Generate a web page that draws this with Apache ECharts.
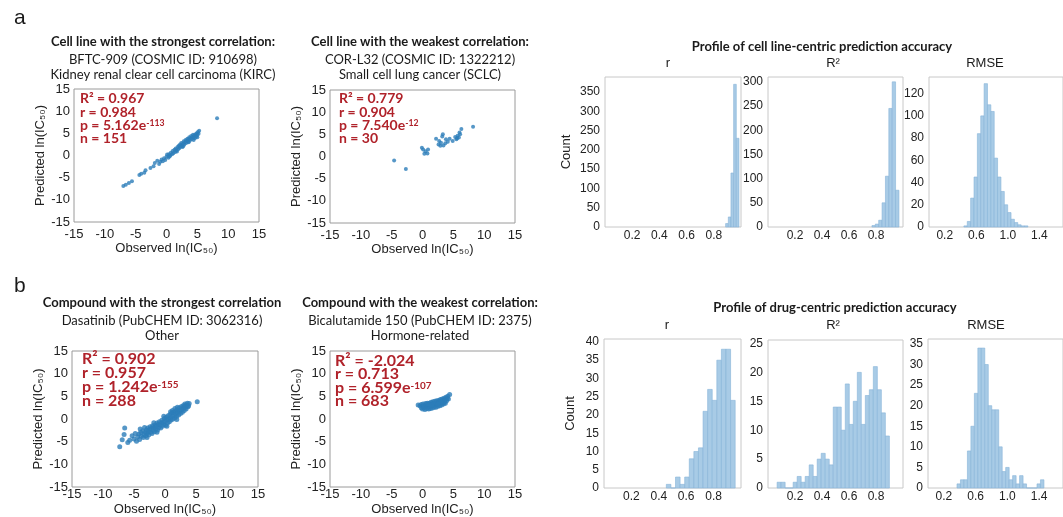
<!DOCTYPE html>
<html>
<head>
<meta charset="utf-8">
<script src="https://cdn.jsdelivr.net/npm/echarts@6/dist/echarts.min.js"></script>
<style>
  html, body { margin: 0; padding: 0; background: #fff; }
  #chart { width: 1063px; height: 517px; }
</style>
</head>
<body>
<div id="chart"></div>
<script>
// scatter points: [observed ln(IC50), predicted ln(IC50)]
const cellBestPts = [
  [-7.0, -6.9], [-6.6, -6.6], [-6.1, -6.2], [-5.6, -5.8], [-4.4, -4.4], [-4.1, -4.1], [-3.6, -3.9], [-3.4, -3.3],
  [-2.6, -2.8], [-2.1, -2.4], [-1.9, -1.7], [-1.5, -1.2], [-1.2, -1.9], [-1.0, -1.4], [-0.8, -0.9], [-0.6, -1.3],
  [-0.4, -0.6], [-0.2, -1.0], [0.0, -0.3], [0.1, 0.2], [0.3, -0.5], [0.4, 0.3], [0.6, 0.0], [0.7, 0.6],
  [0.9, 0.3], [1.0, 1.0], [1.1, 0.5], [1.3, 1.3], [1.4, 0.8], [1.5, 1.6], [1.6, 1.1], [1.8, 1.9],
  [1.9, 1.4], [2.0, 2.2], [2.1, 1.7], [2.2, 2.5], [2.3, 2.0], [2.4, 2.8], [2.5, 2.3], [2.6, 1.9],
  [2.7, 2.7], [2.8, 3.2], [2.9, 2.5], [3.0, 3.0], [3.1, 3.5], [3.2, 2.8], [3.3, 3.3], [3.4, 3.8],
  [3.5, 3.1], [3.6, 3.6], [3.7, 4.1], [3.8, 3.4], [3.9, 3.9], [4.0, 4.4], [4.1, 3.7], [4.2, 4.2],
  [4.3, 4.7], [4.4, 4.0], [4.5, 4.5], [4.6, 3.9], [4.7, 4.8], [4.8, 4.3], [4.9, 5.0], [5.0, 4.6],
  [5.1, 5.3], [5.2, 4.9], [5.3, 5.6], [5.0, 4.1], [4.4, 3.5], [3.6, 3.0], [2.7, 2.1], [1.7, 0.9],
  [0.5, -0.2], [8.2, 8.4]
]
const cellWorstPts = [
  [-4.6, -0.9], [-2.7, -2.8], [-0.1, 2.0], [0.1, 1.6], [0.5, 1.2], [0.8, 0.7], [0.3, 0.6], [0.9, 1.6],
  [2.2, 4.0], [2.7, 3.5], [3.3, 5.0], [3.0, 3.1], [3.4, 2.5], [3.8, 3.9], [4.4, 4.0], [3.7, 3.0],
  [4.1, 3.3], [3.2, 4.5], [2.6, 2.7], [4.9, 3.5], [5.5, 3.9], [5.7, 4.7], [6.0, 5.4], [6.3, 6.2],
  [5.9, 4.3], [5.3, 4.4], [6.1, 5.0], [8.2, 6.7], [2.9, 2.4], [5.6, 4.1]
]
const drugBestPts = [
  [-7.3, -6.1], [-6.9, -4.6], [-6.6, -3.4], [-6.5, -2.0], [-6.0, -5.2], [-5.7, -4.7], [-5.3, -3.7], [-5.0, -4.4],
  [-4.8, -3.2], [-4.6, -4.9], [-4.4, -3.9], [-4.2, -3.3], [-4.1, -4.5], [-3.9, -3.0], [-3.8, -3.8], [-3.6, -2.6],
  [-3.5, -4.1], [-3.4, -3.4], [-3.2, -2.9], [-3.1, -3.7], [-3.0, -2.4], [-2.9, -3.2], [-2.8, -2.0], [-2.7, -2.8],
  [-2.6, -3.5], [-2.5, -2.3], [-2.4, -1.7], [-2.3, -2.9], [-2.2, -2.1], [-2.1, -3.2], [-2.0, -1.5], [-1.9, -2.5],
  [-1.8, -1.9], [-1.7, -2.8], [-1.6, -1.3], [-1.5, -2.2], [-1.4, -1.6], [-1.3, -0.9], [-1.2, -2.4], [-1.1, -1.2],
  [-1.0, -1.9], [-0.9, -0.6], [-0.8, -1.4], [-0.7, -2.0], [-0.6, -0.9], [-0.5, -0.3], [-0.4, -1.6], [-0.3, -0.7],
  [-0.2, -1.2], [-0.1, 0.1], [0.0, -0.5], [0.1, -1.4], [0.2, 0.4], [0.3, -0.2], [0.4, -0.9], [0.5, 0.7],
  [0.6, 0.0], [0.7, -0.6], [0.8, 1.0], [0.9, 0.3], [1.0, -0.2], [1.1, 1.3], [1.2, 0.6], [1.3, 0.0],
  [1.4, 1.5], [1.5, 0.9], [1.6, 0.3], [1.7, 1.8], [1.8, 1.2], [1.9, 0.6], [2.0, 2.0], [2.1, 1.5],
  [2.2, 0.9], [2.3, 2.4], [2.4, 1.8], [2.5, 1.2], [2.6, 2.7], [2.7, 2.1], [2.8, 1.5], [2.9, 2.9],
  [3.0, 2.4], [3.1, 1.9], [3.2, 3.0], [3.3, 2.6], [3.4, 2.2], [3.5, 3.0], [3.7, 2.7], [3.2, 3.3],
  [2.0, 2.6], [1.2, 1.9], [3.9, 3.4], [3.6, 3.5], [3.8, 2.9], [5.2, 3.8], [-3.3, -1.9], [-1.8, -0.8],
  [-0.2, 0.6], [0.9, 1.6], [1.6, 2.3], [-4.0, -2.2], [-2.9, -4.1], [-1.3, -2.9], [0.3, -1.6], [1.9, -0.1]
]
const drugWorstPts = [
  [-0.7, 3.1], [-0.4, 2.9], [-0.2, 3.2], [-0.2, 2.5], [0.0, 2.2], [0.0, 2.8], [0.1, 3.3], [0.2, 2.5],
  [0.3, 3.0], [0.4, 2.1], [0.5, 3.4], [0.5, 2.7], [0.7, 2.3], [0.7, 3.1], [0.8, 3.5], [0.9, 2.6],
  [1.0, 2.2], [1.0, 3.0], [1.1, 3.5], [1.2, 2.7], [1.3, 2.3], [1.3, 3.2], [1.4, 3.7], [1.5, 2.9],
  [1.6, 2.4], [1.6, 3.4], [1.7, 3.8], [1.8, 3.0], [1.9, 2.6], [1.9, 3.5], [2.0, 3.9], [2.1, 3.1],
  [2.2, 2.6], [2.2, 3.6], [2.3, 4.0], [2.4, 3.2], [2.5, 2.8], [2.5, 3.7], [2.6, 4.1], [2.7, 3.4],
  [2.8, 2.9], [2.8, 3.9], [2.9, 4.3], [3.0, 3.5], [3.1, 3.1], [3.1, 4.0], [3.2, 4.4], [3.3, 3.6],
  [3.4, 3.3], [3.4, 4.2], [3.5, 4.6], [3.6, 3.8], [3.7, 3.5], [3.7, 4.3], [3.8, 4.8], [3.9, 4.0],
  [4.0, 4.5], [4.1, 5.0], [4.2, 4.4], [4.4, 5.4], [1.0, 3.3], [2.0, 3.4], [3.0, 3.8], [1.5, 3.1],
  [2.5, 3.3]
]

// histograms: first bin edge, bin width, counts per bin
const cellRStart = 0.887, cellRWidth = 0.0196
const cellRCounts = [9, 26, 140, 370, 230]
const cellR2Start = 0.77, cellR2Width = 0.025
const cellR2Counts = [3, 6, 14, 50, 105, 245, 300, 76]
const cellRmseStart = 0.443, cellRmseWidth = 0.0427
const cellRmseCounts = [1, 5, 26, 45, 84, 100, 129, 110, 104, 62, 45, 32, 20, 13, 7, 4, 2, 1, 1]
const drugRStart = 0.455, drugRWidth = 0.0335
const drugRCounts = [1, 0, 3, 1, 3, 8, 10, 11, 21, 27, 24, 35, 38, 38, 24]
const drugR2Start = 0.0675, drugR2Width = 0.0297
const drugR2Counts = [1, 1, 0, 0, 1, 2, 1, 2, 4, 2, 5, 6, 5, 4, 14, 14, 10, 18, 11, 15, 20, 11, 16, 17, 21, 17, 13, 9]
const drugRmseStart = 0.365, drugRmseWidth = 0.0438
const drugRmseCounts = [1, 2, 2, 9, 15, 23, 34, 34, 30, 20, 19, 19, 10, 4, 5, 2, 3, 1, 3, 1, 0, 0, 0, 1, 2]

const corrTicks = [0.2, 0.4, 0.6, 0.8]
const rmseTicks = [0.2, 0.6, 1.0, 1.4]

const AXIS_FONT = '"Liberation Sans", Arial, sans-serif'
const TITLE_FONT = 'Lato, "Open Sans", sans-serif'
const RED = '#b0222a'
const DOT = '#2c7db9'

const grids = [
  { left: 74, top: 89, width: 185, height: 133 },   // a: strongest
  { left: 330, top: 90, width: 185, height: 133 },  // a: weakest
  { left: 72, top: 351, width: 186, height: 136 },  // b: strongest
  { left: 330, top: 351, width: 185, height: 136 }, // b: weakest
  { left: 605, top: 77, width: 136, height: 150 },  // a: r
  { left: 768, top: 77, width: 135, height: 150 },  // a: R2
  { left: 929, top: 77, width: 149, height: 150 },  // a: RMSE
  { left: 604, top: 339, width: 137, height: 149 }, // b: r
  { left: 768, top: 340, width: 135, height: 148 }, // b: R2
  { left: 928, top: 339, width: 150, height: 149 }  // b: RMSE
]

const xAxes = []
const yAxes = []
const series = []

const tickLabel = (margin, size) => ({ color: '#222', fontSize: size, fontFamily: AXIS_FONT, margin: margin })

const scatterPanel = (gi, pts, xGap, yGap, xMargin, size) => {
  xAxes.push({
    gridIndex: gi, type: 'value', min: -15, max: 15, interval: 5,
    axisLine: { show: false }, axisTick: { show: false }, splitLine: { show: false },
    axisLabel: tickLabel(xMargin, 13),
    name: 'Observed ln(IC₅₀)', nameLocation: 'middle', nameGap: xGap,
    nameTextStyle: { color: '#222', fontSize: 13, fontFamily: AXIS_FONT }
  })
  yAxes.push({
    gridIndex: gi, type: 'value', min: -15, max: 15, interval: 5,
    axisLine: { show: false }, axisTick: { show: false }, splitLine: { show: false },
    axisLabel: tickLabel(4, 13),
    name: 'Predicted ln(IC₅₀)', nameLocation: 'middle', nameGap: yGap,
    nameTextStyle: { color: '#222', fontSize: 13, fontFamily: AXIS_FONT }
  })
  series.push({
    type: 'scatter', xAxisIndex: gi, yAxisIndex: gi, data: pts,
    symbolSize: size, itemStyle: { color: DOT, opacity: 0.8 }
  })
}

const histPanel = (gi, start, width, counts, xMax, xTicks, yMax, yStep, countName, nameGap) => {
  xAxes.push({
    gridIndex: gi, type: 'value', min: 0, max: xMax,
    axisLine: { show: false }, axisTick: { show: false }, splitLine: { show: false },
    axisLabel: Object.assign(tickLabel(3, 12), {
      customValues: xTicks,
      formatter: (v) => v.toFixed(1)
    })
  })
  yAxes.push({
    gridIndex: gi, type: 'value', min: 0, max: yMax, interval: yStep,
    axisLine: { show: false }, axisTick: { show: false }, splitLine: { show: false },
    axisLabel: Object.assign(tickLabel(5, 12), { showMaxLabel: false }),
    name: countName, nameLocation: 'middle', nameGap: nameGap,
    nameTextStyle: { color: '#222', fontSize: 13, fontFamily: AXIS_FONT }
  })
  series.push({
    type: 'custom', xAxisIndex: gi, yAxisIndex: gi,
    data: counts.map((c, k) => [start + k * width, start + (k + 1) * width, c]),
    encode: { x: [0, 1], y: 2 },
    renderItem: (params, api) => {
      const topLeft = api.coord([api.value(0), api.value(2)])
      const botRight = api.coord([api.value(1), 0])
      return {
        type: 'rect',
        shape: { x: topLeft[0], y: topLeft[1], width: botRight[0] - topLeft[0], height: botRight[1] - topLeft[1] },
        style: { fill: '#a8cbe6', stroke: '#86b4d8', lineWidth: 0.6 }
      }
    }
  })
}

scatterPanel(0, cellBestPts, 19, 20, 6, 4)
scatterPanel(1, cellWorstPts, 19, 18, 6, 4)
scatterPanel(2, drugBestPts, 16, 19, 1, 5)
scatterPanel(3, drugWorstPts, 16, 18, 1, 5)
histPanel(4, cellRStart, cellRWidth, cellRCounts, 1, corrTicks, 389, 50, 'Count', 32)
histPanel(5, cellR2Start, cellR2Width, cellR2Counts, 1, corrTicks, 310, 50, '', 0)
histPanel(6, cellRmseStart, cellRmseWidth, cellRmseCounts, 1.7, rmseTicks, 135, 20, '', 0)
histPanel(7, drugRStart, drugRWidth, drugRCounts, 1, corrTicks, 40.8, 5, 'Count', 27)
histPanel(8, drugR2Start, drugR2Width, drugR2Counts, 1, corrTicks, 25.6, 5, '', 0)
histPanel(9, drugRmseStart, drugRmseWidth, drugRmseCounts, 1.7, rmseTicks, 36.2, 5, '', 0)

// free text: panel letters, titles, statistics
const texts = []
const addText = (x, y, text, size, weight, family, align, color) => {
  texts.push({
    type: 'text', x: x, y: y, silent: true,
    style: {
      text: text, fontSize: size, fontWeight: weight, fontFamily: family,
      fill: color || '#1a1a1a', align: align, textAlign: align,
      verticalAlign: 'middle', textVerticalAlign: 'middle'
    }
  })
}
const addTitle = (cx, y0, lines) => {
  addText(cx, y0, lines[0], 13, 'bold', TITLE_FONT, 'center')
  addText(cx, y0 + 18, lines[1], 13, 'normal', TITLE_FONT, 'center')
  addText(cx, y0 + 33, lines[2], 13, 'normal', TITLE_FONT, 'center')
}
const addStats = (x, top, size, lh, lines) => {
  texts.push({
    type: 'text', x: x, y: top, silent: true,
    style: {
      text: lines.map((l) => '{m|' + l[0] + '}' + (l[1] ? '{s|' + l[1] + '}' : '')).join('\n'),
      align: 'left', textAlign: 'left', verticalAlign: 'top', textVerticalAlign: 'top',
      rich: {
        m: { fontSize: size, fontWeight: 'bold', fontFamily: TITLE_FONT, fill: RED, lineHeight: lh },
        s: { fontSize: size * 0.62, fontWeight: 'bold', fontFamily: TITLE_FONT, fill: RED, lineHeight: size * 0.7, verticalAlign: 'top' }
      }
    }
  })
}

addText(14, 18, 'a', 21, 'normal', AXIS_FONT, 'left')
addText(14, 286, 'b', 21, 'normal', AXIS_FONT, 'left')

addTitle(163, 42, ['Cell line with the strongest correlation:', 'BFTC-909 (COSMIC ID: 910698)', 'Kidney renal clear cell carcinoma (KIRC)'])
addTitle(420, 42, ['Cell line with the weakest correlation:', 'COR-L32 (COSMIC ID: 1322212)', 'Small cell lung cancer (SCLC)'])
addTitle(162, 303, ['Compound with the strongest correlation', 'Dasatinib (PubCHEM ID: 3062316)', 'Other'])
addTitle(420, 303, ['Compound with the weakest correlation:', 'Bicalutamide 150 (PubCHEM ID: 2375)', 'Hormone-related'])

addStats(80, 92, 14, 13.4, [['R² = 0.967'], ['r = 0.984'], ['p = 5.162e', '-113'], ['n = 151']])
addStats(339, 92, 14, 13.4, [['R² = 0.779'], ['r = 0.904'], ['p = 7.540e', '-12'], ['n = 30']])
addStats(82, 352, 16, 14, [['R² = 0.902'], ['r = 0.957'], ['p = 1.242e', '-155'], ['n = 288']])
addStats(335, 354, 16, 13.5, [['R² = -2.024'], ['r = 0.713'], ['p = 6.599e', '-107'], ['n = 683']])

addText(822, 47, 'Profile of cell line-centric prediction accuracy', 13, 'bold', TITLE_FONT, 'center')
addText(835, 308, 'Profile of drug-centric prediction accuracy', 13, 'bold', TITLE_FONT, 'center')
addText(668, 63, 'r', 13, 'normal', AXIS_FONT, 'center')
addText(833, 63, 'R²', 13, 'normal', AXIS_FONT, 'center')
addText(985, 63, 'RMSE', 13, 'normal', AXIS_FONT, 'center')
addText(667, 325, 'r', 13, 'normal', AXIS_FONT, 'center')
addText(833, 325, 'R²', 13, 'normal', AXIS_FONT, 'center')
addText(986, 325, 'RMSE', 13, 'normal', AXIS_FONT, 'center')

const chart = echarts.init(document.getElementById('chart'), null, { renderer: 'canvas' })
chart.setOption({
  animation: false,
  backgroundColor: '#fff',
  grid: grids.map((g, i) => Object.assign({
    show: true,
    borderColor: i < 4 ? '#9a9a9a' : '#c8c8c8',
    borderWidth: 1,
    containLabel: false
  }, g)),
  xAxis: xAxes,
  yAxis: yAxes,
  series: series,
  graphic: texts
})
</script>
</body>
</html>
